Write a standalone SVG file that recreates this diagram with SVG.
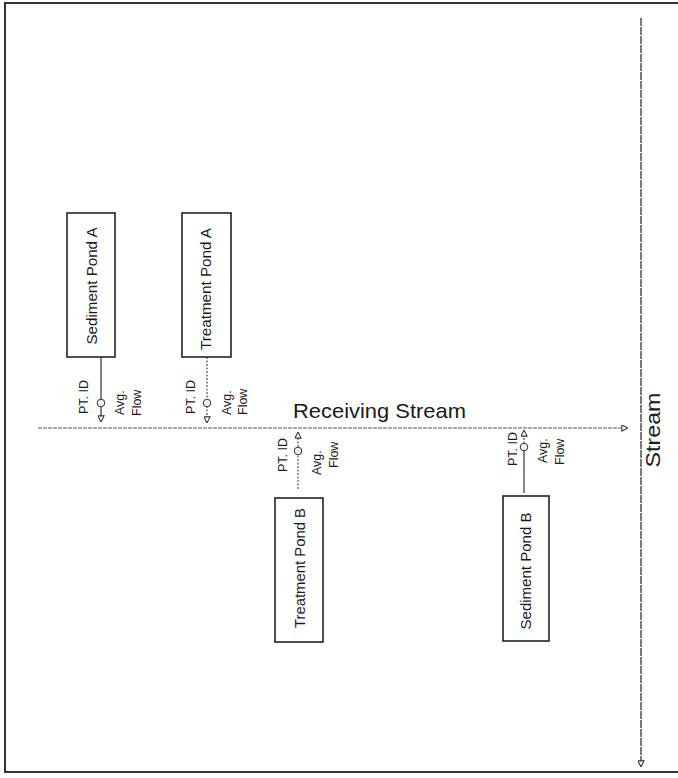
<svg xmlns="http://www.w3.org/2000/svg" width="678" height="778" viewBox="0 0 678 778">
<style>
.box{fill:#fff;stroke:#222;stroke-width:1.6}
.lbl{font-family:"Liberation Sans",Arial,sans-serif;font-size:14px;fill:#1a1a1a;text-anchor:middle}
.sm{font-family:"Liberation Sans",Arial,sans-serif;font-size:12.5px;fill:#1a1a1a}
.big{font-family:"Liberation Sans",Arial,sans-serif;font-size:21px;fill:#1a1a1a}
.ln{stroke:#333;stroke-width:1.2;fill:none}
.dot{stroke:#444;stroke-width:1.1;fill:none;stroke-dasharray:2 1.5}
.hmain{stroke:#555;stroke-width:1.2;fill:none;stroke-dasharray:4 1}
.vmain{stroke:#333;stroke-width:1.3;fill:none;stroke-dasharray:8 1}
.pt{fill:#eee;stroke:#333;stroke-width:1}
</style>
<defs>
<marker id="tri" viewBox="0 0 8 8" refX="7.5" refY="4" markerWidth="7" markerHeight="7" markerUnits="userSpaceOnUse" orient="auto">
<path d="M0.5,0.5 L7.5,4 L0.5,7.5 Z" fill="#fff" stroke="#333" stroke-width="1.2"/>
</marker>
</defs>
<rect width="678" height="778" fill="#fff"/>
<path d="M680,3 H5 V772 H680" fill="none" stroke="#333" stroke-width="2"/>
<g id="connectors">
<line class="hmain" x1="38" y1="428" x2="628" y2="428" marker-end="url(#tri)"/>
<line class="vmain" x1="641" y1="18" x2="641" y2="767" marker-end="url(#tri)"/>
<line class="ln" x1="101" y1="357" x2="101" y2="422" marker-end="url(#tri)"/>
<circle class="pt" cx="101" cy="403" r="3.8"/>
<line class="dot" x1="207" y1="357" x2="207" y2="423" marker-end="url(#tri)"/>
<circle class="pt" cx="207" cy="403" r="3.8"/>
<line class="dot" x1="298" y1="489" x2="298" y2="432" marker-end="url(#tri)"/>
<circle class="pt" cx="298" cy="451" r="3.8"/>
<line class="ln" x1="524" y1="493" x2="524" y2="447"/>
<line class="dot" x1="524" y1="447" x2="524" y2="430" marker-end="url(#tri)"/>
<circle class="pt" cx="524" cy="447" r="3.8"/>
</g>
<g id="labels">
<text class="big" x="293" y="418" textLength="173" lengthAdjust="spacingAndGlyphs">Receiving Stream</text>
<text class="big" transform="translate(660,430) rotate(-90)" text-anchor="middle" textLength="75" lengthAdjust="spacingAndGlyphs">Stream</text>
<text class="sm" transform="translate(88,397) rotate(-90)" text-anchor="middle">PT. ID</text>
<text class="sm" transform="translate(124,415) rotate(-90)">Avg.</text>
<text class="sm" transform="translate(141,416) rotate(-90)">Flow</text>
<text class="sm" transform="translate(195,397) rotate(-90)" text-anchor="middle">PT. ID</text>
<text class="sm" transform="translate(231,415) rotate(-90)">Avg.</text>
<text class="sm" transform="translate(247,415) rotate(-90)">Flow</text>
<text class="sm" transform="translate(287,455) rotate(-90)" text-anchor="middle">PT. ID</text>
<text class="sm" transform="translate(321,475) rotate(-90)">Avg.</text>
<text class="sm" transform="translate(338,468) rotate(-90)">Flow</text>
<text class="sm" transform="translate(517,449) rotate(-90)" text-anchor="middle">PT. ID</text>
<text class="sm" transform="translate(547,463) rotate(-90)">Avg.</text>
<text class="sm" transform="translate(564,465) rotate(-90)">Flow</text>
</g>
<g id="sediment-pond-a">
<rect class="box" x="67" y="213" width="48" height="144"/>
<text class="lbl" transform="translate(97,286) rotate(-90)" textLength="117" lengthAdjust="spacingAndGlyphs">Sediment Pond A</text>
</g>
<g id="treatment-pond-a">
<rect class="box" x="182" y="213" width="49" height="144"/>
<text class="lbl" transform="translate(211,289) rotate(-90)" textLength="122" lengthAdjust="spacingAndGlyphs">Treatment Pond A</text>
</g>
<g id="treatment-pond-b">
<rect class="box" x="275" y="498" width="48" height="144"/>
<text class="lbl" transform="translate(305,568) rotate(-90)" textLength="120" lengthAdjust="spacingAndGlyphs">Treatment Pond B</text>
</g>
<g id="sediment-pond-b">
<rect class="box" x="503" y="496" width="46" height="145"/>
<text class="lbl" transform="translate(531,571) rotate(-90)" textLength="117" lengthAdjust="spacingAndGlyphs">Sediment Pond B</text>
</g>
</svg>
